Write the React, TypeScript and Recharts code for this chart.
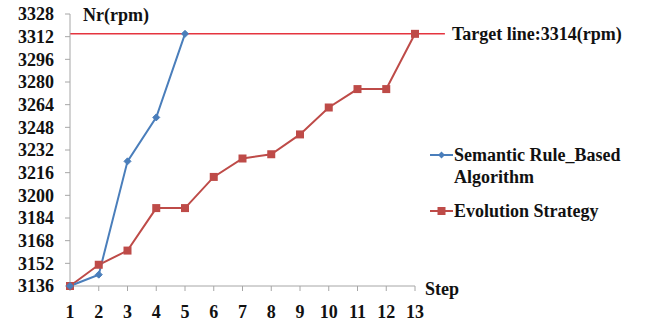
import React from "react";
import { LineChart, Line, XAxis, YAxis, ReferenceLine } from "recharts";

// steps on the x axis
const steps = [1, 2, 3, 4, 5, 6, 7, 8, 9, 10, 11, 12, 13];
// Nr (rpm) per step
const semanticRule = [3136, 3144, 3224, 3255, 3314];
const evolution = [3136, 3151, 3161, 3191, 3191, 3213, 3226, 3229, 3243, 3262, 3275, 3275, 3314];
const yTicks = [3136, 3152, 3168, 3184, 3200, 3216, 3232, 3248, 3264, 3280, 3296, 3312, 3328];
const targetRpm = 3314;

const BLUE = "#4a7ebb";
const RED = "#be4b48";
const TARGET = "#e5343f";
const FONT = "'Liberation Serif', 'Times New Roman', serif";

const data = steps.map((s, i) => ({
  step: s,
  semantic: i < semanticRule.length ? semanticRule[i] : null,
  evolution: evolution[i],
}));

const tickStyle = { fill: "#111", fontSize: 18, fontWeight: 700, fontFamily: FONT };

const Diamond = (props: any) => {
  const { cx, cy } = props;
  if (cx == null || cy == null) return null;
  const r = 3.5;
  return <path d={`M${cx},${cy - r}L${cx + r},${cy}L${cx},${cy + r}L${cx - r},${cy}Z`} fill={BLUE} stroke={BLUE} />;
};

const Square = (props: any) => {
  const { cx, cy } = props;
  if (cx == null || cy == null) return null;
  return <rect x={cx - 4} y={cy - 4} width={8} height={8} fill={RED} />;
};

function LegendBox() {
  const textStyle: React.CSSProperties = {
    fontFamily: FONT,
    fontWeight: 700,
    fontSize: 18,
    color: "#111",
    lineHeight: "22px",
  };
  return (
    <div style={{ position: "absolute", left: 430, top: 144, width: 215 }}>
      <div style={{ display: "flex", alignItems: "flex-start" }}>
        <svg width={24} height={22} style={{ flex: "none" }}>
          <line x1={0} y1={11} x2={23} y2={11} stroke={BLUE} strokeWidth={2} />
          <path d="M11.5,7.5L15,11L11.5,14.5L8,11Z" fill={BLUE} />
        </svg>
        <div style={textStyle}>
          Semantic Rule_Based
          <br />
          Algorithm
        </div>
      </div>
      <div style={{ display: "flex", alignItems: "flex-start", marginTop: 12 }}>
        <svg width={24} height={22} style={{ flex: "none" }}>
          <line x1={0} y1={11} x2={23} y2={11} stroke={RED} strokeWidth={2} />
          <rect x={7.5} y={7} width={8} height={8} fill={RED} />
        </svg>
        <div style={textStyle}>Evolution Strategy</div>
      </div>
    </div>
  );
}

export default function App() {
  return (
    <div style={{ position: "absolute", left: 0, top: 0, width: 652, height: 325, background: "#fff" }}>
      <LineChart
        width={652}
        height={325}
        data={data}
        margin={{ top: 14, right: 237, left: 0, bottom: 0 }}
      >
        <XAxis
          dataKey="step"
          type="number"
          domain={[1, 13]}
          ticks={steps}
          interval={0}
          height={39}
          stroke="#a6a6a6"
          tickSize={5}
          tickMargin={14}
          tick={tickStyle}
          label={{
            content: (p: any) => {
              const vb = p.viewBox;
              return (
                <text x={vb.x + vb.width + 10} y={vb.y + 9} style={tickStyle} fontSize={18} fontWeight={700} fontFamily={FONT}>
                  Step
                </text>
              );
            },
          }}
        />
        <YAxis
          type="number"
          domain={[3136, 3328]}
          ticks={yTicks}
          interval={0}
          width={70}
          stroke="#a6a6a6"
          tickSize={5}
          tickMargin={11}
          tick={tickStyle}
          label={{
            content: (p: any) => {
              const vb = p.viewBox;
              return (
                <text x={vb.x + vb.width + 13} y={vb.y + 7} style={tickStyle} fontSize={18} fontWeight={700} fontFamily={FONT}>
                  Nr(rpm)
                </text>
              );
            },
          }}
        />
        <ReferenceLine
          segment={[
            { x: 1, y: targetRpm },
            { x: 14.04, y: targetRpm },
          ]}
          ifOverflow="visible"
          stroke={TARGET}
          strokeWidth={1.5}
          label={{
            value: "Target line:3314(rpm)",
            position: "right",
            offset: 7,
            fill: "#111",
            fontSize: 18,
            fontWeight: 700,
            fontFamily: FONT,
          }}
        />
        <Line
          type="linear"
          dataKey="evolution"
          stroke={RED}
          strokeWidth={2}
          dot={<Square />}
          activeDot={false}
          isAnimationActive={false}
        />
        <Line
          type="linear"
          dataKey="semantic"
          stroke={BLUE}
          strokeWidth={2}
          dot={<Diamond />}
          activeDot={false}
          connectNulls={false}
          isAnimationActive={false}
        />
      </LineChart>
      <LegendBox />
    </div>
  );
}
